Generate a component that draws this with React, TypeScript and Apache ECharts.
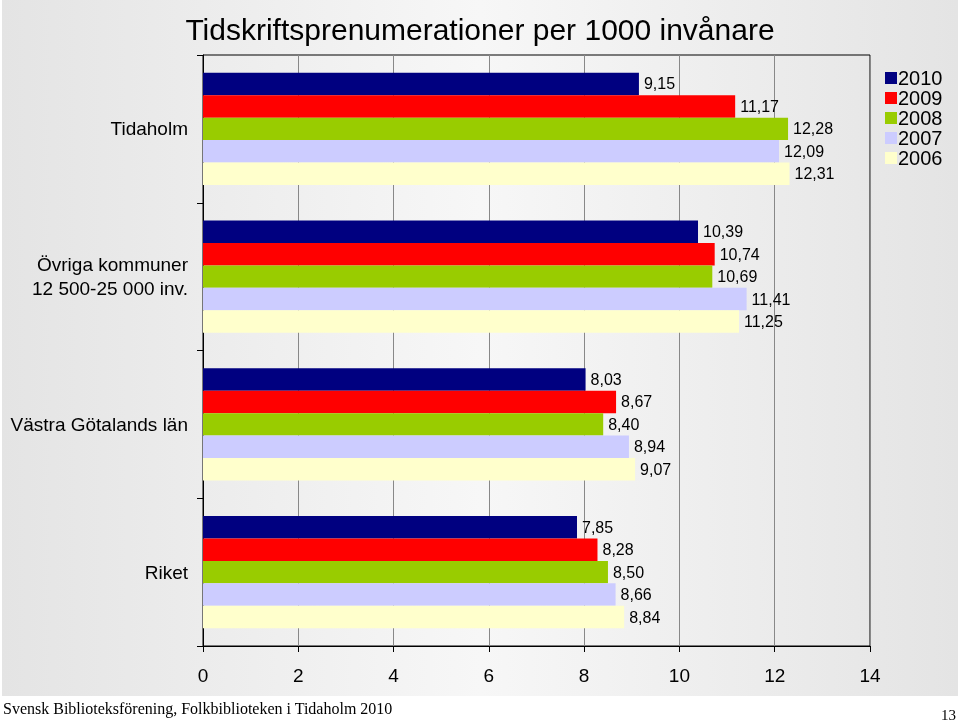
import React, { useEffect, useRef } from "react";
import * as echarts from "echarts";

const categories = ["Tidaholm", "Övriga kommuner\n12 500-25 000 inv.", "Västra Götalands län", "Riket"];
const years = ["2010", "2009", "2008", "2007", "2006"];
const colors = ["#000080", "#ff0000", "#99cc00", "#ccccff", "#ffffcc"];
const v2010 = [9.15, 10.39, 8.03, 7.85];
const v2009 = [11.17, 10.74, 8.67, 8.28];
const v2008 = [12.28, 10.69, 8.4, 8.5];
const v2007 = [12.09, 11.41, 8.94, 8.66];
const v2006 = [12.31, 11.25, 9.07, 8.84];
const seriesValues = [v2010, v2009, v2008, v2007, v2006];

const FONT = "Liberation Sans, Arial, sans-serif";

export default function App() {
  const ref = useRef<HTMLDivElement>(null);
  useEffect(() => {
    if (!ref.current) return;
    const chart = echarts.init(ref.current, undefined, { renderer: "svg" });
    chart.setOption({
      animation: false,
      textStyle: { fontFamily: FONT },
      graphic: [
        {
          type: "rect",
          z: -10,
          silent: true,
          shape: { x: 2, y: 0, width: 956, height: 696 },
          style: {
            fill: new echarts.graphic.LinearGradient(0, 0, 1, 0, [
              { offset: 0, color: "#e4e4e4" },
              { offset: 0.5, color: "#f7f7f7" },
              { offset: 1, color: "#e4e4e4" },
            ]),
          },
        },
        {
          type: "text",
          left: 3,
          top: 700,
          style: { text: "Svensk Biblioteksförening, Folkbiblioteken i Tidaholm 2010", font: "16px 'Liberation Serif', serif", fill: "#000" },
        },
        {
          type: "text",
          right: 4,
          top: 707,
          style: { text: "13", font: "15px 'Liberation Serif', serif", fill: "#000" },
        },
      ],
      title: {
        text: "Tidskriftsprenumerationer per 1000 invånare",
        left: "center",
        top: 9,
        textStyle: { fontSize: 30, fontWeight: "normal", color: "#000", fontFamily: FONT },
      },
      legend: {
        orient: "vertical",
        left: 880,
        top: 63,
        itemWidth: 12,
        itemHeight: 12,
        itemGap: 0,
        icon: "rect",
        data: years,
        textStyle: { fontSize: 20, color: "#000", lineHeight: 17.3, padding: [0, 0, 0, -4], fontFamily: FONT },
      },
      grid: {
        left: 203,
        right: 90,
        top: 55,
        bottom: 79,
        show: true,
        borderColor: "#000",
        borderWidth: 1,
        backgroundColor: "transparent",
      },
      xAxis: {
        type: "value",
        min: 0,
        max: 14,
        interval: 2,
        axisLine: { show: true, lineStyle: { color: "#000", width: 1 } },
        axisTick: { show: true, length: 6, lineStyle: { color: "#000" } },
        axisLabel: { fontSize: 19, color: "#000", margin: 20, fontFamily: FONT },
        splitLine: { show: true, lineStyle: { color: "#888", width: 1 } },
      },
      yAxis: {
        type: "category",
        inverse: true,
        data: categories,
        axisLine: { show: true, lineStyle: { color: "#000", width: 1 } },
        axisTick: { show: true, length: 6, lineStyle: { color: "#000" } },
        axisLabel: { fontSize: 19, color: "#000", margin: 15, lineHeight: 24, fontFamily: FONT },
        splitLine: { show: false },
      },
      series: years.map((y, i) => ({
        name: y,
        type: "bar",
        data: seriesValues[i],
        barGap: "0%",
        barCategoryGap: "24%",
        itemStyle: { color: colors[i] },
        label: {
          show: true,
          position: "right",
          distance: 5,
          fontSize: 16,
          color: "#000",
          fontFamily: FONT,
          formatter: (p: any) => p.value.toFixed(2).replace(".", ","),
        },
      })),
    });
    return () => chart.dispose();
  }, []);
  return <div ref={ref} style={{ position: "fixed", left: 0, top: 0, width: 960, height: 725 }} />;
}
